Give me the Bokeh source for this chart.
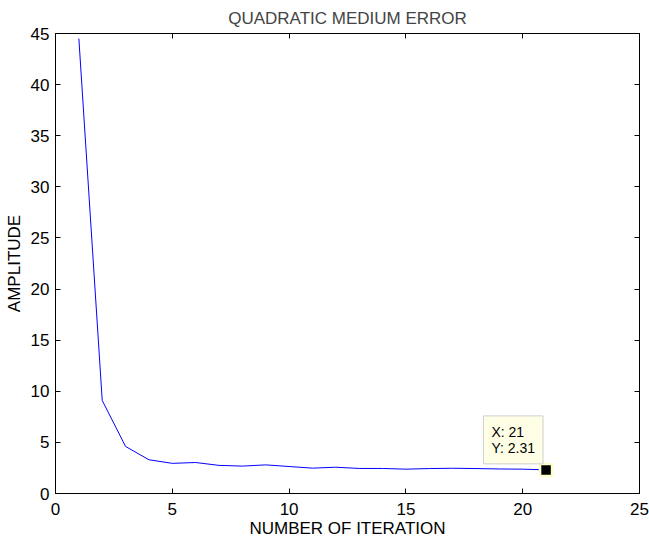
from bokeh.plotting import figure
from bokeh.models import (Range1d, LinearAxis, SingleIntervalTicker, Label,
                          CustomJSTickFormatter)
from bokeh.embed import file_html
from bokeh.resources import INLINE

# Error curve per training iteration
iterations = list(range(1, 22))
amplitude = [44.5, 9.1, 4.6, 3.3, 2.95, 3.03, 2.75, 2.68, 2.8, 2.64, 2.48,
             2.57, 2.45, 2.45, 2.38, 2.44, 2.47, 2.44, 2.4, 2.38, 2.31]

tip_x = iterations[-1]
tip_y = amplitude[-1]

FONT = "Liberation Sans"

p = figure(width=649, height=540, output_backend="svg", toolbar_location=None,
           x_range=Range1d(0, 25), y_range=Range1d(0, 45),
           min_border_left=55, min_border_right=10, min_border_top=33,
           min_border_bottom=47, x_axis_location=None, y_axis_location=None)

p.title.text = "QUADRATIC MEDIUM ERROR"
p.title.align = "center"
p.title.vertical_align = "top"
p.title.text_font = FONT
p.title.text_font_style = "normal"
p.title.text_font_size = "17px"
p.title.offset = 0
p.title.standoff = 0

p.outline_line_color = "black"
p.outline_line_width = 1
p.xgrid.visible = False
p.ygrid.visible = False
p.background_fill_color = "white"
p.border_fill_color = "white"


def style_axis(ax, show_labels):
    ax.ticker = SingleIntervalTicker(interval=5)
    ax.minor_tick_line_color = None
    ax.major_tick_in = 5
    ax.major_tick_out = 0
    ax.axis_line_color = "black"
    ax.major_tick_line_color = "black"
    ax.major_label_text_font = FONT
    ax.major_label_text_color = "black"
    ax.axis_label_text_font = FONT
    ax.axis_label_text_font_style = "normal"
    ax.axis_label_text_color = "black"
    ax.axis_label_text_font_size = "17px"
    if show_labels:
        ax.major_label_text_font_size = "17px"
        ax.major_label_standoff = 5
    else:
        # tick marks only on the opposite sides of the box
        ax.formatter = CustomJSTickFormatter(code="return ''")
        ax.major_label_text_font_size = "1px"
        ax.major_label_standoff = 0


xb = LinearAxis(axis_label="NUMBER OF ITERATION")
style_axis(xb, True)
xb.axis_label_standoff = 1
p.add_layout(xb, "below")

yl = LinearAxis(axis_label="AMPLITUDE")
style_axis(yl, True)
yl.major_label_standoff = 2
yl.axis_label_standoff = 4
p.add_layout(yl, "left")

xt = LinearAxis()
style_axis(xt, False)
p.add_layout(xt, "above")

yr = LinearAxis()
style_axis(yr, False)
p.add_layout(yr, "right")

p.line(iterations, amplitude, line_color="blue", line_width=1)

# Data tip at the last iteration
p.scatter([tip_x], [tip_y], marker="square", size=12, fill_color="black",
          line_color="#FFFFCC", line_width=2.5)

tip = Label(x=tip_x, y=tip_y, x_offset=-3, y_offset=6,
            text=f"X: {tip_x}\nY: {tip_y}",
            anchor="bottom_right",
            text_font=FONT, text_font_size="14px", text_color="black",
            text_line_height=1.0,
            background_fill_color="#FFFFE6", background_fill_alpha=1.0,
            border_line_color="#CFCFCF", border_line_width=1,
            padding=8)
p.add_layout(tip)

open("out.html", "w").write(file_html(p, INLINE))
